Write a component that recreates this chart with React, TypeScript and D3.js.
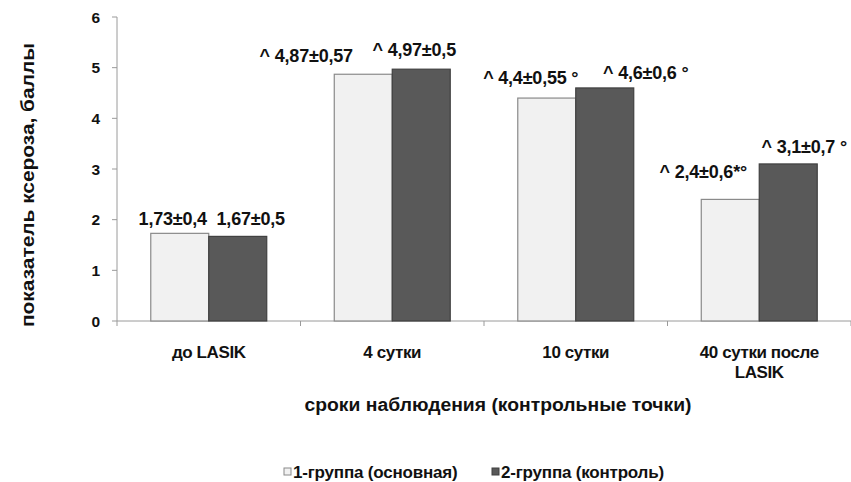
import React from "react";
import * as d3 from "d3";

const categories: string[][] = [["до LASIK"], ["4 сутки"], ["10 сутки"], ["40 сутки после", "LASIK"]];
const seriesNames = ["1-группа (основная)", "2-группа (контроль)"];
const group1 = [1.73, 4.87, 4.4, 2.4];
const group2 = [1.67, 4.97, 4.6, 3.1];
const labels1 = ["1,73±0,4", "^ 4,87±0,57", "^ 4,4±0,55 °", "^ 2,4±0,6*°"];
const labels2 = ["1,67±0,5", "^ 4,97±0,5", "^ 4,6±0,6 °", "^ 3,1±0,7 °"];
const yTicks = [0, 1, 2, 3, 4, 5, 6];
const yTitle = "показатель ксероза, баллы";
const xTitle = "сроки наблюдения (контрольные точки)";

// label layout offsets (px) relative to bar centre / top
const labelDx1 = [-7, -57, -16, -27];
const labelDy1 = [-8, -12, -14, -21];
const labelDx2 = [13, -7, 41, 16];
const labelDy2 = [-11, -13, -9, -11];

const W = 851;
const H = 482;
const left = 117;
const right = 851;
const top = 17;
const bottom = 321;

const LIGHT = "#f1f1f1";
const LIGHT_STROKE = "#8a8a8a";
const DARK = "#595959";
const DARK_STROKE = "#404040";
const AXIS = "#9a9a9a";
const TEXT = "#111";
const FONT = "'Liberation Sans', Arial, sans-serif";

export default function App() {
  const y = d3.scaleLinear().domain([0, 6]).range([bottom, top]);
  const x0 = d3
    .scaleBand<number>()
    .domain(d3.range(categories.length))
    .range([left, right])
    .paddingInner(0.368)
    .paddingOuter(0.184);
  const x1 = d3.scaleBand<number>().domain([0, 1]).range([0, x0.bandwidth()]);
  const step = x0.step();
  const series = [group1, group2];
  const seriesLabels = [labels1, labels2];
  const dxs = [labelDx1, labelDx2];
  const dys = [labelDy1, labelDy2];
  const fills = [LIGHT, DARK];
  const strokes = [LIGHT_STROKE, DARK_STROKE];

  return (
    <svg
      width={W}
      height={H}
      style={{ position: "absolute", left: 0, top: 0, background: "#fff" }}
      fontFamily={FONT}
    >
      {/* y axis */}
      <line x1={left} x2={left} y1={top} y2={bottom} stroke={AXIS} strokeWidth={1} />
      {yTicks.map((t) => (
        <g key={t}>
          <line x1={left - 5} x2={left} y1={y(t)} y2={y(t)} stroke={AXIS} />
          <text
            x={left - 17}
            y={y(t)}
            dy="0.36em"
            textAnchor="end"
            fontSize={15.5}
            fontWeight="bold"
            fill={TEXT}
          >
            {t}
          </text>
        </g>
      ))}
      {/* x axis */}
      <line x1={left} x2={right} y1={bottom} y2={bottom} stroke={AXIS} />
      {d3.range(categories.length + 1).map((i) => (
        <line
          key={i}
          x1={left + i * step}
          x2={left + i * step}
          y1={bottom}
          y2={bottom + 5}
          stroke={AXIS}
        />
      ))}
      {/* bars */}
      {series.map((vals, s) =>
        vals.map((v, i) => (
          <rect
            key={`${s}-${i}`}
            x={(x0(i) as number) + (x1(s) as number)}
            y={y(v)}
            width={x1.bandwidth()}
            height={bottom - y(v)}
            fill={fills[s]}
            stroke={strokes[s]}
            strokeWidth={1.2}
          />
        ))
      )}
      {/* data labels */}
      {series.map((vals, s) =>
        vals.map((v, i) => (
          <text
            key={`l${s}-${i}`}
            x={(x0(i) as number) + (x1(s) as number) + x1.bandwidth() / 2 + dxs[s][i]}
            y={y(v) + dys[s][i]}
            textAnchor="middle"
            fontSize={18}
            fontWeight="bold"
            fill={TEXT}
            letterSpacing={-0.2}
          >
            {seriesLabels[s][i]}
          </text>
        ))
      )}
      {/* category labels */}
      {categories.map((lines, i) => (
        <text
          key={`c${i}`}
          x={(x0(i) as number) + x0.bandwidth() / 2}
          y={358}
          textAnchor="middle"
          fontSize={17}
          fontWeight="bold"
          fill={TEXT}
          letterSpacing={-0.4}
        >
          {lines.map((ln, k) => (
            <tspan key={k} x={(x0(i) as number) + x0.bandwidth() / 2} dy={k === 0 ? 0 : 20}>
              {ln}
            </tspan>
          ))}
        </text>
      ))}
      {/* axis titles */}
      <text
        x={498}
        y={411}
        textAnchor="middle"
        fontSize={18}
        fontWeight="bold"
        fill={TEXT}
        textLength={387}
        lengthAdjust="spacingAndGlyphs"
      >
        {xTitle}
      </text>
      <text
        transform={`translate(34,185) rotate(-90)`}
        textAnchor="middle"
        fontSize={18.5}
        fontWeight="bold"
        fill={TEXT}
        textLength={284}
        lengthAdjust="spacingAndGlyphs"
      >
        {yTitle}
      </text>
      {/* legend */}
      {seriesNames.map((name, s) => {
        const lx = s === 0 ? 284 : 492;
        return (
          <g key={`lg${s}`}>
            <rect x={lx} y={468} width={7} height={7} fill={fills[s]} stroke={strokes[s]} />
            <text x={lx + 9} y={478} fontSize={17} fontWeight="bold" fill={TEXT} letterSpacing={-0.2}>
              {name}
            </text>
          </g>
        );
      })}
    </svg>
  );
}
